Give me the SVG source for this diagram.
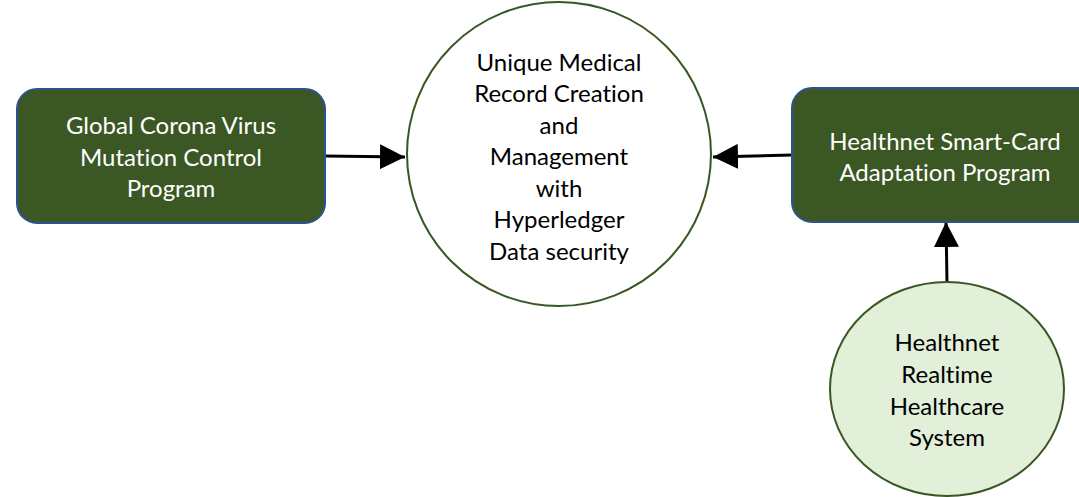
<svg xmlns="http://www.w3.org/2000/svg" width="1079" height="497" viewBox="0 0 1079 497">
<defs>
<style>
.box{fill:#3a5724;stroke:#2f528f;stroke-width:2}
.circ{stroke:#385723;stroke-width:2}
.t{font-family:Lato,"Liberation Sans",sans-serif;font-size:24px;text-anchor:middle;font-variant-ligatures:none}
.w{fill:#ffffff}
.k{fill:#000000}
.edge{stroke:#000;stroke-width:3;fill:none}
</style>
<marker id="ah" viewBox="0 0 10 10" refX="10" refY="5" markerUnits="userSpaceOnUse" markerWidth="25" markerHeight="25" orient="auto">
<path d="M0,0 L10,5 L0,10 Z" fill="#000"/>
</marker>
</defs>
<rect width="1079" height="497" fill="#fff"/>
<g id="edges">
<line class="edge" x1="325" y1="156" x2="405" y2="157" marker-end="url(#ah)"/>
<line class="edge" x1="792" y1="155" x2="713" y2="157" marker-end="url(#ah)"/>
<line class="edge" x1="947" y1="282" x2="946" y2="222" marker-end="url(#ah)"/>
</g>
<g id="global-corona">
<rect class="box" x="17" y="89" width="308" height="134" rx="20"/>
<text class="t w" x="171" y="134">Global Corona Virus</text>
<text class="t w" x="171" y="166">Mutation Control</text>
<text class="t w" x="171" y="197">Program</text>
</g>
<g id="unique-medical">
<circle class="circ" cx="559" cy="154" r="152" fill="#fff"/>
<text class="t k" x="559" y="71">Unique Medical</text>
<text class="t k" x="559" y="102">Record Creation</text>
<text class="t k" x="559" y="134">and</text>
<text class="t k" x="559" y="165">Management</text>
<text class="t k" x="559" y="197">with</text>
<text class="t k" x="559" y="228">Hyperledger</text>
<text class="t k" x="559" y="260">Data security</text>
</g>
<g id="smart-card">
<rect class="box" x="792" y="88" width="306" height="134" rx="20"/>
<text class="t w" x="945" y="150">Healthnet Smart-Card</text>
<text class="t w" x="945" y="181">Adaptation Program</text>
</g>
<g id="realtime">
<ellipse class="circ" cx="947" cy="389" rx="117" ry="107" fill="#e2efd9"/>
<text class="t k" x="947" y="351">Healthnet</text>
<text class="t k" x="947" y="383">Realtime</text>
<text class="t k" x="947" y="415">Healthcare</text>
<text class="t k" x="947" y="446">System</text>
</g>
</svg>
